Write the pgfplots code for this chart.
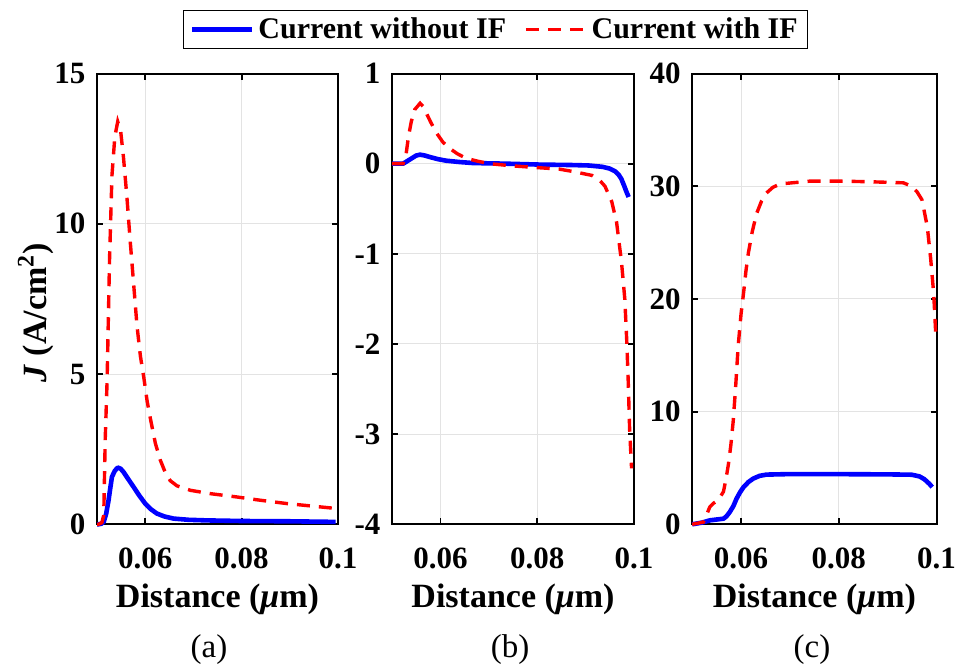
\documentclass[border=0pt]{standalone}
\usepackage{fontspec}
\setmainfont{Liberation Serif}
\usepackage{pgfplots}
\pgfplotsset{compat=1.18}
\definecolor{mblue}{RGB}{0,0,255}
\definecolor{mred}{RGB}{255,0,0}
\pgfplotsset{
  myaxis/.style={
    scale only axis, height=225.4pt,
    xmin=0.05, xmax=0.1,
    xtick={0.06,0.08,0.1}, xticklabels={0.06,0.08,0.1},
    grid=major, grid style={gray!22, line width=0.5pt},
    axis line style={line width=1pt},
    tick style={black, line width=0.9pt}, major tick length=3pt, tick align=inside,
    ticklabel style={font=\fontsize{15.5}{16}\selectfont\bfseries},
    x tick label style={yshift=-8.5pt},
    y tick label style={xshift=-2.3pt},
    xlabel={Distance (\textit{μ}m)},
    xlabel style={font=\fontsize{17}{18}\selectfont\bfseries, at={(axis description cs:0.5,0)}, anchor=base, yshift=-41.35pt},
    clip=false,
  },
  blueline/.style={mblue, line width=2.3pt, line join=round},
  redline/.style={mred, line width=1.7pt, dash pattern=on 6.5pt off 4.5pt},
}
\begin{document}
\begin{tikzpicture}
\path[use as bounding box] (0,0) rectangle (479pt,335.5pt);
% (a)
\begin{axis}[myaxis, width=120.5pt, at={(48.5pt,73.35pt)}, anchor=south west,
  ymin=0, ymax=15, ytick={0,5,10,15}, yticklabels={0,5,10,15},
  ylabel={\textit{J} (A/cm\textsuperscript{2})},
  ylabel style={font=\fontsize{17}{18}\selectfont\bfseries, at={(axis description cs:-0.255,0.469)}, anchor=center}]
\addplot[blueline] coordinates {(0.0500,0) (0.0503,0) (0.0509,0.02) (0.0514,0.08) (0.0519,0.35) (0.0524,0.8) (0.0528,1.25) (0.0531,1.58) (0.0537,1.78) (0.0543,1.89) (0.0549,1.85) (0.0555,1.74) (0.0565,1.5) (0.0576,1.24) (0.0588,0.95) (0.0600,0.69) (0.0612,0.5) (0.0624,0.36) (0.0640,0.26) (0.0659,0.19) (0.0690,0.15) (0.0728,0.13) (0.0800,0.11) (0.0901,0.1) (0.0995,0.08)};
\addplot[redline] coordinates {(0.0500,0) (0.0503,0) (0.0510,0.05) (0.0514,0.3) (0.0517,2.8) (0.0521,4.8) (0.0526,8.8) (0.0531,11.6) (0.0537,12.9) (0.0543,13.4) (0.0549,13.1) (0.0555,12.2) (0.0562,10.9) (0.0569,9.4) (0.0576,8.0) (0.0583,6.6) (0.0590,5.6) (0.0597,4.9) (0.0604,4.1) (0.0611,3.5) (0.0621,2.7) (0.0631,2.15) (0.0641,1.75) (0.0652,1.45) (0.0666,1.28) (0.0694,1.13) (0.0735,1.02) (0.0790,0.91) (0.0839,0.8) (0.0894,0.69) (0.0950,0.6) (0.1000,0.52)};
\end{axis}
% (b)
\begin{axis}[myaxis, width=121pt, at={(196pt,73.35pt)}, anchor=south west,
  ymin=-4, ymax=1, ytick={-4,-3,-2,-1,0,1}, yticklabels={-4,-3,-2,-1,0,1},
  legend columns=2,
  legend style={at={(0.429,1.098)}, anchor=center, draw=black, line width=0.6pt,
    font=\fontsize{15}{16}\selectfont\bfseries, inner xsep=3pt, inner ysep=1.5pt,
    /tikz/every even column/.append style={column sep=7pt}},
  legend image code/.code={\draw[#1] (0pt,0pt) -- (30pt,0pt);}]
\addplot[blueline] coordinates {(0.0500,0) (0.0523,0.0) (0.0532,0.03) (0.0541,0.06) (0.0550,0.09) (0.0558,0.1) (0.0568,0.09) (0.0578,0.074) (0.0595,0.05) (0.0612,0.033) (0.0640,0.018) (0.0667,0.007) (0.0735,0) (0.0804,-0.01) (0.0870,-0.015) (0.0906,-0.02) (0.0935,-0.035) (0.0950,-0.055) (0.0961,-0.085) (0.0968,-0.12) (0.0974,-0.17) (0.0980,-0.25) (0.0985,-0.32) (0.0989,-0.37)};
\addlegendentry{Current without IF}
\addplot[redline] coordinates {(0.0500,0) (0.0523,0.0) (0.0529,0.1) (0.0534,0.3) (0.0540,0.47) (0.0547,0.6) (0.0558,0.67) (0.0565,0.63) (0.0571,0.56) (0.0580,0.46) (0.0592,0.34) (0.0605,0.24) (0.0619,0.17) (0.0635,0.11) (0.0653,0.06) (0.0675,0.03) (0.0701,0.0) (0.0750,-0.025) (0.0804,-0.045) (0.0845,-0.06) (0.0872,-0.085) (0.0913,-0.13) (0.0930,-0.19) (0.0940,-0.25) (0.0954,-0.42) (0.0964,-0.65) (0.0974,-1.08) (0.0981,-1.5) (0.0985,-1.96) (0.0988,-2.4) (0.0991,-2.95) (0.0995,-3.38)};
\addlegendentry{Current with IF}
\end{axis}
% (c)
\begin{axis}[myaxis, width=122.2pt, at={(346.1pt,73.35pt)}, anchor=south west,
  ymin=0, ymax=40, ytick={0,10,20,30,40}, yticklabels={0,10,20,30,40}]
\addplot[blueline] coordinates {(0.0500,0) (0.0520,0.15) (0.0536,0.35) (0.0564,0.5) (0.0570,0.7) (0.0577,1.1) (0.0584,1.6) (0.0591,2.3) (0.0598,2.85) (0.0605,3.3) (0.0615,3.75) (0.0625,4.06) (0.0638,4.3) (0.0652,4.41) (0.0694,4.45) (0.0800,4.45) (0.0900,4.43) (0.0949,4.4) (0.0965,4.25) (0.0975,4.0) (0.0985,3.6) (0.0991,3.3)};
\addplot[redline] coordinates {(0.0500,0) (0.0523,0.2) (0.0530,0.9) (0.0536,1.54) (0.0543,1.85) (0.0550,2.05) (0.0557,2.4) (0.0564,2.9) (0.0569,4.0) (0.0574,5.3) (0.0579,7.0) (0.0584,9.2) (0.0589,12.3) (0.0594,15.8) (0.0600,18.7) (0.0605,20.5) (0.0610,22.5) (0.0615,24.1) (0.0623,26.0) (0.0632,27.6) (0.0642,28.7) (0.0652,29.4) (0.0665,29.9) (0.0680,30.2) (0.0741,30.45) (0.0800,30.45) (0.0860,30.4) (0.0932,30.3) (0.0949,30.0) (0.0960,29.5) (0.0970,28.8) (0.0981,26.4) (0.0988,23.5) (0.0994,20.5) (0.0998,17.1)};
\end{axis}
\node[font=\fontsize{16.5}{18}\selectfont] at (104.5pt,10.5pt) {(a)};
\node[font=\fontsize{16.5}{18}\selectfont] at (255pt,10.5pt) {(b)};
\node[font=\fontsize{16.5}{18}\selectfont] at (406pt,10.5pt) {(c)};
\end{tikzpicture}
\end{document}
